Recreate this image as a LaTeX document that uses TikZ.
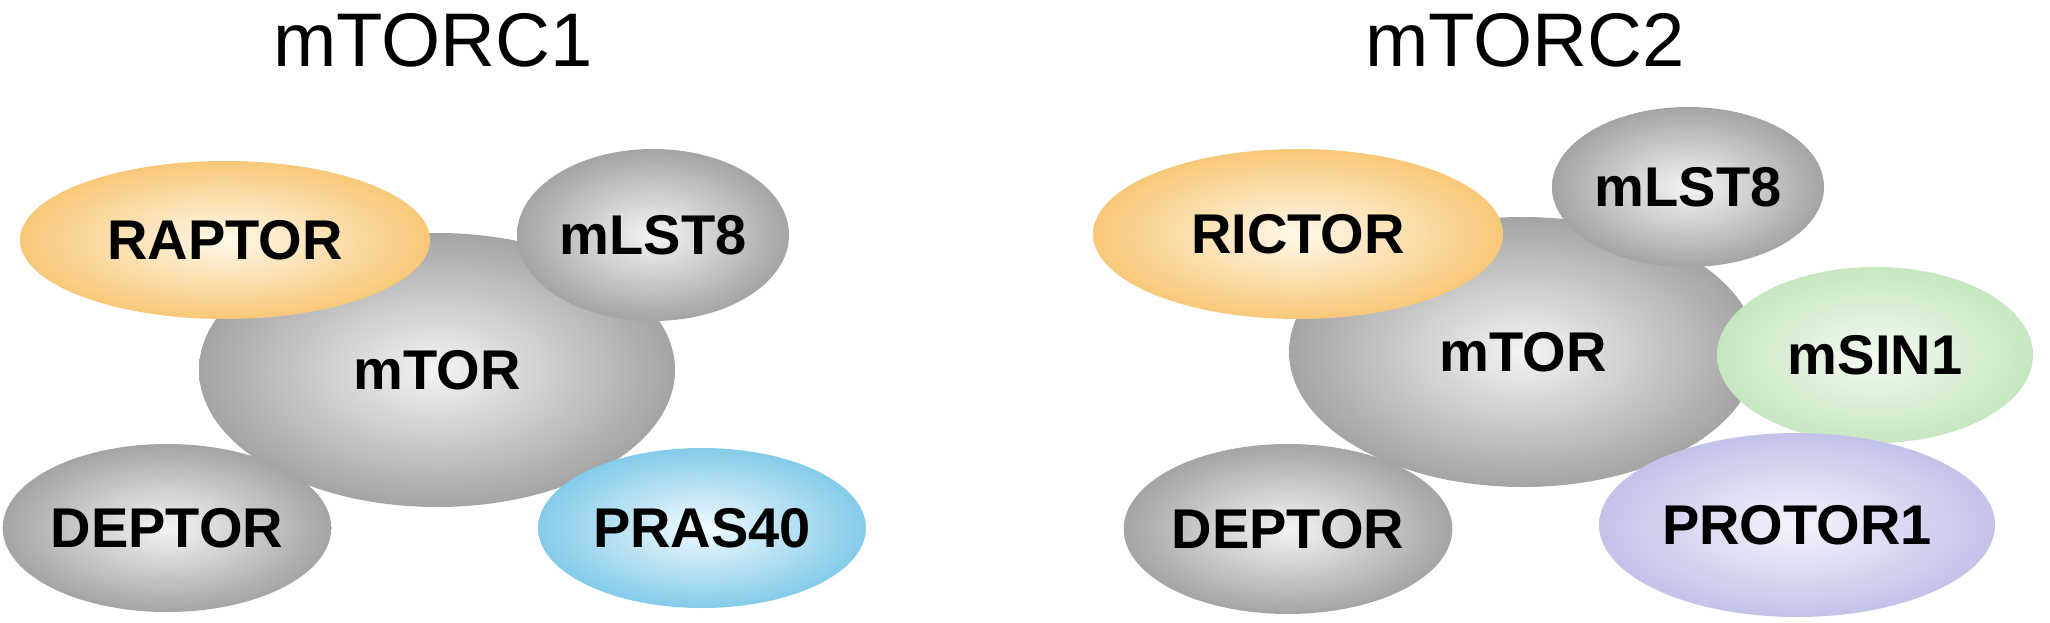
\documentclass[tikz,border=0pt]{standalone}
\usepackage{fontspec}
\setmainfont{Liberation Sans}
\usetikzlibrary{shapes.geometric}
\definecolor{GreyIn}{HTML}{F4F4F4}
\definecolor{GreyOut}{HTML}{A4A4A4}
\definecolor{OrangeIn}{HTML}{FFF8EA}
\definecolor{OrangeOut}{HTML}{F8C878}
\definecolor{BlueIn}{HTML}{F2FAFE}
\definecolor{BlueOut}{HTML}{84CBEA}
\definecolor{GreenIn}{HTML}{F4FBF2}
\definecolor{GreenOut}{HTML}{C6E6C0}
\definecolor{PurpleIn}{HTML}{F4F4FC}
\definecolor{PurpleOut}{HTML}{C2C2EA}

\begin{document}
\begin{tikzpicture}[x=1pt,y=-1pt]
\tikzset{
  blob/.style={ellipse,inner sep=0pt,shading=radial,
               font=\bfseries\fontsize{56}{60}\selectfont},
  grey/.style={blob,inner color=GreyIn,outer color=GreyOut},
  orange/.style={blob,inner color=OrangeIn,outer color=OrangeOut},
  blue/.style={blob,inner color=BlueIn,outer color=BlueOut},
  green/.style={blob,inner color=GreenIn,outer color=GreenOut},
  purple/.style={blob,inner color=PurpleIn,outer color=PurpleOut},
  title/.style={font=\fontsize{76}{86}\selectfont}
}
\useasboundingbox (0,0) rectangle (2050,623);

% ---------- mTORC1 -------------------------------------------------------
\node[title] (c1) at (433,40) {mTORC1};
\node[grey,minimum width=476pt,minimum height=274pt] (tor1) at (437,370) {mTOR};
\node[orange,minimum width=410pt,minimum height=158pt] (raptor) at (225,240) {RAPTOR};
\node[grey,minimum width=272pt,minimum height=172pt] (lst1) at (653,235) {mLST8};
\node[grey,minimum width=326pt,minimum height=168pt] (dep1) at (167,528) {DEPTOR};
\node[blue,minimum width=328pt,minimum height=160pt] (pras) at (702,528) {PRAS40};

% ---------- mTORC2 -------------------------------------------------------
\node[title] (c2) at (1525,40) {mTORC2};
\node[grey,minimum width=468pt,minimum height=270pt] (tor2) at (1523,352) {mTOR};
\node[orange,minimum width=410pt,minimum height=170pt] (rictor) at (1298,234) {RICTOR};
\node[grey,minimum width=272pt,minimum height=160pt] (lst2) at (1688,187) {mLST8};
\node[green,minimum width=316pt,minimum height=176pt] (sin) at (1875,355) {mSIN1};
\node[grey,minimum width=324pt,minimum height=170pt] (dep2) at (1288,529) {DEPTOR};
\node[purple,minimum width=396pt,minimum height=184pt] (protor) at (1797,525) {PROTOR1};
\end{tikzpicture}
\end{document}
